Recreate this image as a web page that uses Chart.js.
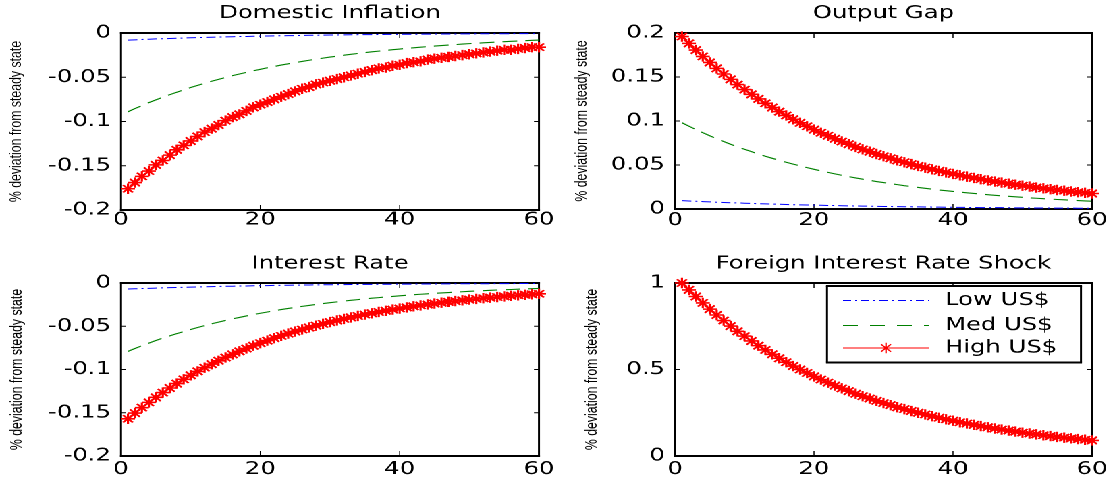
<!DOCTYPE html>
<html>
<head>
<meta charset="utf-8">
<script src="https://cdn.jsdelivr.net/npm/chart.js@4/dist/chart.umd.min.js"></script>
<style>
html,body{margin:0;padding:0;background:#fff;overflow:hidden;width:1115px;height:481px;}
#stage{position:absolute;left:0;top:0;width:826px;height:481px;transform-origin:0 0;}
.panel{position:absolute;left:0;top:0;width:826px;height:481px;}
</style>
</head>
<body>
<div id="stage">
  <div class="panel"><canvas id="pInfl"></canvas></div>
  <div class="panel"><canvas id="pGap"></canvas></div>
  <div class="panel"><canvas id="pRate"></canvas></div>
  <div class="panel"><canvas id="pShock"></canvas></div>
</div>
<script>
// ---------------- DATA ----------------
const periods = [1,2,3,4,5,6,7,8,9,10,11,12,13,14,15,16,17,18,19,20,
  21,22,23,24,25,26,27,28,29,30,31,32,33,34,35,36,37,38,39,40,
  41,42,43,44,45,46,47,48,49,50,51,52,53,54,55,56,57,58,59,60];

const seriesNames = ['Low US$', 'Med US$', 'High US$'];

const lowInflation = [-0.0080,-0.0077,-0.0073,-0.0070,-0.0067,-0.0065,-0.0062,-0.0059,-0.0057,-0.0054,
  -0.0052,-0.0050,-0.0048,-0.0046,-0.0044,-0.0042,-0.0040,-0.0039,-0.0037,-0.0035,
  -0.0034,-0.0032,-0.0031,-0.0030,-0.0029,-0.0027,-0.0026,-0.0025,-0.0024,-0.0023,
  -0.0022,-0.0021,-0.0020,-0.0019,-0.0019,-0.0018,-0.0017,-0.0016,-0.0016,-0.0015,
  -0.0014,-0.0014,-0.0013,-0.0013,-0.0012,-0.0012,-0.0011,-0.0011,-0.0010,-0.0010,
  -0.0009,-0.0009,-0.0009,-0.0008,-0.0008,-0.0008,-0.0007,-0.0007,-0.0007,-0.0006];
const medInflation = [-0.0890,-0.0854,-0.0820,-0.0787,-0.0756,-0.0726,-0.0697,-0.0669,-0.0642,-0.0616,
  -0.0592,-0.0568,-0.0545,-0.0524,-0.0503,-0.0482,-0.0463,-0.0445,-0.0427,-0.0410,
  -0.0393,-0.0378,-0.0362,-0.0348,-0.0334,-0.0321,-0.0308,-0.0296,-0.0284,-0.0272,
  -0.0262,-0.0251,-0.0241,-0.0231,-0.0222,-0.0213,-0.0205,-0.0197,-0.0189,-0.0181,
  -0.0174,-0.0167,-0.0160,-0.0154,-0.0148,-0.0142,-0.0136,-0.0131,-0.0125,-0.0120,
  -0.0116,-0.0111,-0.0107,-0.0102,-0.0098,-0.0094,-0.0091,-0.0087,-0.0083,-0.0080];
const highInflation = [-0.176,-0.169,-0.162,-0.156,-0.149,-0.144,-0.138,-0.132,-0.127,-0.122,
  -0.117,-0.112,-0.108,-0.104,-0.099,-0.095,-0.092,-0.088,-0.084,-0.081,
  -0.078,-0.075,-0.072,-0.069,-0.066,-0.063,-0.061,-0.058,-0.056,-0.054,
  -0.052,-0.050,-0.048,-0.046,-0.044,-0.042,-0.040,-0.039,-0.037,-0.036,
  -0.034,-0.033,-0.032,-0.030,-0.029,-0.028,-0.027,-0.026,-0.025,-0.024,
  -0.023,-0.022,-0.021,-0.020,-0.019,-0.019,-0.018,-0.017,-0.016,-0.016];

const lowOutput = [0.0095,0.0091,0.0088,0.0084,0.0081,0.0077,0.0074,0.0071,0.0069,0.0066,
  0.0063,0.0061,0.0058,0.0056,0.0054,0.0051,0.0049,0.0047,0.0046,0.0044,
  0.0042,0.0040,0.0039,0.0037,0.0036,0.0034,0.0033,0.0032,0.0030,0.0029,
  0.0028,0.0027,0.0026,0.0025,0.0024,0.0023,0.0022,0.0021,0.0020,0.0019,
  0.0019,0.0018,0.0017,0.0016,0.0016,0.0015,0.0015,0.0014,0.0013,0.0013,
  0.0012,0.0012,0.0011,0.0011,0.0010,0.0010,0.0010,0.0009,0.0009,0.0009];
const medOutput = [0.0980,0.0941,0.0903,0.0867,0.0832,0.0799,0.0767,0.0736,0.0707,0.0679,
  0.0652,0.0625,0.0600,0.0576,0.0553,0.0531,0.0510,0.0490,0.0470,0.0451,
  0.0433,0.0416,0.0399,0.0383,0.0368,0.0353,0.0339,0.0326,0.0312,0.0300,
  0.0288,0.0277,0.0265,0.0255,0.0245,0.0235,0.0226,0.0216,0.0208,0.0200,
  0.0192,0.0184,0.0177,0.0170,0.0163,0.0156,0.0150,0.0144,0.0138,0.0133,
  0.0127,0.0122,0.0117,0.0113,0.0108,0.0104,0.0100,0.0096,0.0092,0.0088];
const highOutput = [0.1960,0.1882,0.1806,0.1734,0.1665,0.1598,0.1534,0.1473,0.1414,0.1357,
  0.1303,0.1251,0.1201,0.1153,0.1107,0.1063,0.1020,0.0979,0.0940,0.0902,
  0.0866,0.0832,0.0798,0.0767,0.0736,0.0706,0.0678,0.0651,0.0625,0.0600,
  0.0576,0.0553,0.0531,0.0510,0.0489,0.0470,0.0451,0.0433,0.0416,0.0399,
  0.0383,0.0368,0.0353,0.0339,0.0325,0.0312,0.0300,0.0288,0.0276,0.0265,
  0.0255,0.0244,0.0235,0.0225,0.0216,0.0208,0.0199,0.0191,0.0184,0.0176];

const lowInterest = [-0.0070,-0.0067,-0.0064,-0.0062,-0.0059,-0.0056,-0.0054,-0.0052,-0.0050,-0.0048,
  -0.0046,-0.0044,-0.0042,-0.0040,-0.0038,-0.0037,-0.0035,-0.0034,-0.0032,-0.0031,
  -0.0030,-0.0028,-0.0027,-0.0026,-0.0025,-0.0024,-0.0023,-0.0022,-0.0021,-0.0020,
  -0.0019,-0.0019,-0.0018,-0.0017,-0.0016,-0.0016,-0.0015,-0.0014,-0.0014,-0.0013,
  -0.0013,-0.0012,-0.0012,-0.0011,-0.0011,-0.0010,-0.0010,-0.0009,-0.0009,-0.0009,
  -0.0008,-0.0008,-0.0008,-0.0007,-0.0007,-0.0007,-0.0006,-0.0006,-0.0006,-0.0006];
const medInterest = [-0.0790,-0.0757,-0.0725,-0.0695,-0.0665,-0.0637,-0.0611,-0.0585,-0.0561,-0.0537,
  -0.0514,-0.0493,-0.0472,-0.0452,-0.0433,-0.0415,-0.0398,-0.0381,-0.0365,-0.0350,
  -0.0335,-0.0321,-0.0307,-0.0294,-0.0282,-0.0270,-0.0259,-0.0248,-0.0238,-0.0228,
  -0.0218,-0.0209,-0.0200,-0.0192,-0.0184,-0.0176,-0.0169,-0.0161,-0.0155,-0.0148,
  -0.0142,-0.0136,-0.0130,-0.0125,-0.0120,-0.0115,-0.0110,-0.0105,-0.0101,-0.0096,
  -0.0092,-0.0089,-0.0085,-0.0081,-0.0078,-0.0075,-0.0071,-0.0068,-0.0066,-0.0063];
const highInterest = [-0.1570,-0.1504,-0.1441,-0.1380,-0.1322,-0.1267,-0.1214,-0.1163,-0.1114,-0.1067,
  -0.1022,-0.0979,-0.0938,-0.0899,-0.0861,-0.0825,-0.0790,-0.0757,-0.0725,-0.0695,
  -0.0666,-0.0638,-0.0611,-0.0585,-0.0561,-0.0537,-0.0514,-0.0493,-0.0472,-0.0452,
  -0.0433,-0.0415,-0.0398,-0.0381,-0.0365,-0.0350,-0.0335,-0.0321,-0.0307,-0.0295,
  -0.0282,-0.0270,-0.0259,-0.0248,-0.0238,-0.0228,-0.0218,-0.0209,-0.0200,-0.0192,
  -0.0184,-0.0176,-0.0169,-0.0162,-0.0155,-0.0148,-0.0142,-0.0136,-0.0130,-0.0125];

const foreignShock = [1.000,0.960,0.922,0.885,0.849,0.815,0.783,0.751,0.721,0.693,
  0.665,0.638,0.613,0.588,0.565,0.542,0.520,0.500,0.480,0.460,
  0.442,0.424,0.407,0.391,0.375,0.360,0.346,0.332,0.319,0.306,
  0.294,0.282,0.271,0.260,0.250,0.240,0.230,0.221,0.212,0.204,
  0.195,0.188,0.180,0.173,0.166,0.159,0.153,0.147,0.141,0.135,
  0.130,0.125,0.120,0.115,0.110,0.106,0.102,0.098,0.094,0.090];

const xTickValues = [0, 20, 40, 60];
const xTickLabels = ['0', '20', '40', '60'];
const negTickValues = [0, -0.05, -0.1, -0.15, -0.2];
const negTickLabels = ['0', '-0.05', '-0.1', '-0.15', '-0.2'];
const gapTickValues = [0, 0.05, 0.1, 0.15, 0.2];
const gapTickLabels = ['0', '0.05', '0.1', '0.15', '0.2'];
const shockTickValues = [0, 0.5, 1];
const shockTickLabels = ['0', '0.5', '1'];
const yAxisTitle = '% deviation from steady state';

// ---------------- LAYOUT / STYLE ----------------
const PAGE_W = 1115, PAGE_H = 481, STAGE_W = 826;
const SX = PAGE_W / STAGE_W;   // horizontal stretch of the whole figure
document.getElementById('stage').style.transform = 'scaleX(' + SX + ')';

const TICK_FONT = {family: 'DejaVu Sans', size: 18, weight: 'normal', lineHeight: 1};
const TITLE_FONT = {family: 'DejaVu Sans', size: 18, weight: 'normal', lineHeight: 1.2};
const YLABEL_FONT = {family: 'Liberation Sans', size: 12.3, weight: 'normal', lineHeight: 1.2};

// order: higher value is drawn first (underneath) so the High US$ series sits on top
const seriesStyles = [
  {order: 2, borderColor: '#0000ff', borderWidth: 1, borderDash: [7, 3, 1.5, 3], pointRadius: 0},
  {order: 1, borderColor: '#008000', borderWidth: 1.1, borderDash: [11, 6], pointRadius: 0},
  {order: 0, borderColor: '#ff0000', borderWidth: 1.5, borderDash: [], pointRadius: 5.2, pointStyle: 'star',
   pointBorderColor: '#ff0000', pointBackgroundColor: 'rgba(0,0,0,0)', pointBorderWidth: 1.6}
];

const framePlugin = {
  id: 'matlabFrame',
  beforeDatasetsDraw(chart) {
    const {ctx, chartArea: ca, scales} = chart;
    ctx.save();
    ctx.strokeStyle = '#000';
    ctx.setLineDash([]);
    ctx.lineWidth = 2;
    ctx.beginPath();
    ctx.moveTo(ca.left - 1 / SX, ca.top); ctx.lineTo(ca.right + 1 / SX, ca.top);
    ctx.moveTo(ca.left - 1 / SX, ca.bottom); ctx.lineTo(ca.right + 1 / SX, ca.bottom);
    ctx.stroke();
    ctx.lineWidth = 2 / SX;
    ctx.beginPath();
    ctx.moveTo(ca.left, ca.top - 1); ctx.lineTo(ca.left, ca.bottom + 1);
    ctx.moveTo(ca.right, ca.top - 1); ctx.lineTo(ca.right, ca.bottom + 1);
    ctx.stroke();
    const tl = 5;
    ctx.lineWidth = 1;
    ctx.beginPath();
    scales.y.ticks.forEach(t => {
      const py = scales.y.getPixelForValue(t.value);
      ctx.moveTo(ca.left, py); ctx.lineTo(ca.left + tl / SX, py);
      ctx.moveTo(ca.right, py); ctx.lineTo(ca.right - tl / SX, py);
    });
    ctx.stroke();
    ctx.lineWidth = 1 / SX;
    ctx.beginPath();
    scales.x.ticks.forEach(t => {
      const px = scales.x.getPixelForValue(t.value);
      ctx.moveTo(px, ca.bottom); ctx.lineTo(px, ca.bottom - tl);
      ctx.moveTo(px, ca.top); ctx.lineTo(px, ca.top + tl);
    });
    ctx.stroke();
    ctx.restore();
  }
};

const boxLegendPlugin = {
  id: 'boxLegend',
  afterDatasetsDraw(chart, args, opts) {
    if (!opts || !opts.display) return;
    const {ctx} = chart;
    const b = opts.box;
    ctx.save();
    ctx.fillStyle = '#fff';
    ctx.fillRect(b.l / SX, b.t, (b.r - b.l) / SX, b.b - b.t);
    ctx.strokeStyle = '#000';
    ctx.setLineDash([]);
    ctx.lineWidth = 2;
    ctx.beginPath();
    ctx.moveTo(b.l / SX - 1 / SX, b.t); ctx.lineTo(b.r / SX + 1 / SX, b.t);
    ctx.moveTo(b.l / SX - 1 / SX, b.b); ctx.lineTo(b.r / SX + 1 / SX, b.b);
    ctx.stroke();
    ctx.lineWidth = 2 / SX;
    ctx.beginPath();
    ctx.moveTo(b.l / SX, b.t); ctx.lineTo(b.l / SX, b.b);
    ctx.moveTo(b.r / SX, b.t); ctx.lineTo(b.r / SX, b.b);
    ctx.stroke();
    chart.data.datasets.forEach((ds, i) => {
      const y = opts.rows[i];
      ctx.strokeStyle = ds.borderColor;
      ctx.lineWidth = Math.min(ds.borderWidth, 1.1);
      ctx.setLineDash(opts.dashes[i]);
      ctx.beginPath();
      ctx.moveTo(opts.lineX0 / SX, y); ctx.lineTo(opts.lineX1 / SX, y);
      ctx.stroke();
      ctx.setLineDash([]);
      if (ds.pointRadius > 0) {
        ctx.strokeStyle = ds.pointBorderColor;
        ctx.fillStyle = ds.pointBackgroundColor;
        Chart.helpers.drawPoint(ctx, {pointStyle: ds.pointStyle, radius: ds.pointRadius,
          borderWidth: ds.pointBorderWidth, rotation: 0}, (opts.lineX0 + opts.lineX1) / 2 / SX, y);
      }
      ctx.fillStyle = '#000';
      ctx.font = opts.font;
      ctx.textAlign = 'left';
      ctx.textBaseline = 'middle';
      ctx.fillText(ds.label, opts.textX / SX, y);
    });
    ctx.restore();
  }
};

function makePanel(canvasId, cfg) {
  const a = cfg.area;   // plot frame in page pixels
  const datasets = cfg.values.map((vals, i) => Object.assign({
    label: seriesNames[i],
    data: periods.map((p, k) => ({x: p, y: vals[k]})),
    tension: 0, clip: false, fill: false
  }, seriesStyles[i]));
  const titleHalf = TITLE_FONT.size * TITLE_FONT.lineHeight / 2;
  const ylabHalf = YLABEL_FONT.size * YLABEL_FONT.lineHeight / 2;
  return new Chart(document.getElementById(canvasId), {
    type: 'line',
    data: {datasets},
    options: {
      responsive: true, maintainAspectRatio: false, animation: false,
      devicePixelRatio: 2, events: [],
      layout: {padding: {left: 0, top: 0, bottom: 0, right: STAGE_W - a.r / SX}},
      plugins: {
        legend: {display: false},
        tooltip: {enabled: false},
        title: {
          display: true, text: cfg.title, fullSize: false, color: '#000', font: TITLE_FONT,
          padding: {top: cfg.titleY - titleHalf, bottom: a.t - cfg.titleY - titleHalf}
        },
        boxLegend: cfg.legend || {display: false}
      },
      scales: {
        x: {
          type: 'linear', min: 0, max: 60,
          afterBuildTicks: s => { s.ticks = xTickValues.map(v => ({value: v})); },
          afterFit: s => { s.height = PAGE_H - a.b; },
          grid: {display: false, drawTicks: false},
          border: {display: false},
          ticks: {
            font: TICK_FONT, color: '#000', maxRotation: 0, autoSkip: false,
            padding: cfg.xLabelOffset - TICK_FONT.size / 2,
            callback: (v, i) => xTickLabels[i]
          }
        },
        y: {
          type: 'linear', min: cfg.yMin, max: cfg.yMax,
          afterBuildTicks: s => { s.ticks = cfg.yTicks.map(v => ({value: v})); },
          afterFit: s => { s.width = a.l / SX; },
          grid: {display: false, drawTicks: false},
          border: {display: false},
          ticks: {
            font: TICK_FONT, color: '#000', padding: 10 / SX,
            callback: (v, i) => cfg.yTickLabels[i]
          },
          title: {
            display: true, text: yAxisTitle, color: '#000', font: YLABEL_FONT,
            padding: {top: cfg.yTitleX / SX - ylabHalf, bottom: 0}
          }
        }
      }
    },
    plugins: [framePlugin, boxLegendPlugin]
  });
}

makePanel('pInfl', {
  title: 'Domestic Inflation', values: [lowInflation, medInflation, highInflation],
  area: {l: 121, r: 539, t: 33, b: 210}, titleY: 13.5, xLabelOffset: 10, yTitleX: 16.5,
  yMin: -0.2, yMax: 0, yTicks: negTickValues, yTickLabels: negTickLabels
});
makePanel('pGap', {
  title: 'Output Gap', values: [lowOutput, medOutput, highOutput],
  area: {l: 675, r: 1092, t: 33, b: 209}, titleY: 13.5, xLabelOffset: 11.5, yTitleX: 582,
  yMin: 0, yMax: 0.2, yTicks: gapTickValues, yTickLabels: gapTickLabels
});
makePanel('pRate', {
  title: 'Interest Rate', values: [lowInterest, medInterest, highInterest],
  area: {l: 121, r: 539, t: 283, b: 456}, titleY: 264, xLabelOffset: 13.5, yTitleX: 17,
  yMin: -0.2, yMax: 0, yTicks: negTickValues, yTickLabels: negTickLabels
});
makePanel('pShock', {
  title: 'Foreign Interest Rate Shock', values: [foreignShock, foreignShock, foreignShock],
  area: {l: 675, r: 1092, t: 283, b: 456}, titleY: 264, xLabelOffset: 13.5, yTitleX: 592,
  yMin: 0, yMax: 1, yTicks: shockTickValues, yTickLabels: shockTickLabels,
  legend: {display: true, box: {l: 827, r: 1081, t: 286, b: 362.5}, rows: [300.5, 325.5, 348],
           lineX0: 843, lineX1: 929, textX: 945, font: '18px "DejaVu Sans"',
           dashes: [[6, 3, 1.5, 3], [11, 9], []]}
});
</script>
</body>
</html>
